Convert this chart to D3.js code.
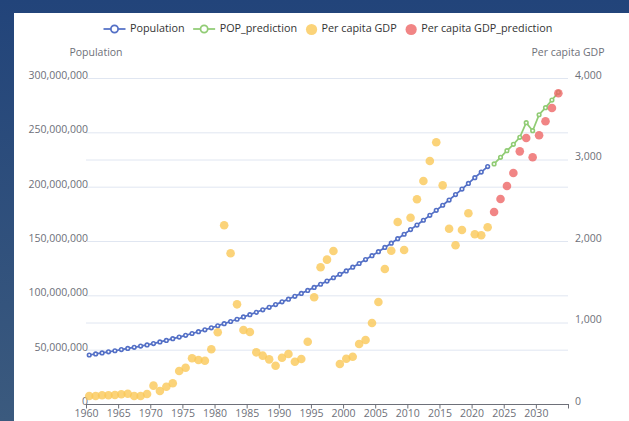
<!DOCTYPE html>
<html>
<head>
<meta charset="utf-8">
<script src="https://cdn.jsdelivr.net/npm/d3@7"></script>
<style>
body { margin: 0; background: #fff; overflow: hidden; }
text { font-family: "Open Sans", sans-serif; }
</style>
</head>
<body>
<div id="chart"></div>
<script>
// x categories
var years = [1960, 1961, 1962, 1963, 1964, 1965, 1966, 1967, 1968, 1969,
  1970, 1971, 1972, 1973, 1974, 1975, 1976, 1977, 1978, 1979,
  1980, 1981, 1982, 1983, 1984, 1985, 1986, 1987, 1988, 1989,
  1990, 1991, 1992, 1993, 1994, 1995, 1996, 1997, 1998, 1999,
  2000, 2001, 2002, 2003, 2004, 2005, 2006, 2007, 2008, 2009,
  2010, 2011, 2012, 2013, 2014, 2015, 2016, 2017, 2018, 2019,
  2020, 2021, 2022]
var predYears = [2023, 2024, 2025, 2026, 2027, 2028, 2029, 2030, 2031, 2032, 2033]

// population, millions
var population = [45.1, 46.1, 47.0, 48.0, 49.0, 50.1, 51.1, 52.2, 53.3, 54.4,
  55.6, 57.1, 58.5, 60.1, 61.6, 63.2, 64.9, 66.6, 68.3, 70.1,
  72.0, 73.9, 75.9, 78.0, 80.1, 82.2, 84.4, 86.7, 89.0, 91.5,
  94.0, 96.5, 99.1, 101.8, 104.5, 107.3, 110.2, 113.1, 116.2, 119.3,
  122.5, 125.9, 129.3, 132.9, 136.5, 140.2, 144.1, 148.0, 152.1, 156.2,
  160.5, 164.7, 169.1, 173.6, 178.2, 182.9, 187.7, 192.7, 197.8, 203.0,
  208.3, 213.4, 218.5]
var popPrediction = [220.9, 227.0, 233.1, 239.0, 245.4, 258.9, 251.5, 266.2, 272.7, 279.7, 286.8]

// per capita GDP
var gdp = [98, 98, 107, 107, 110, 119, 126, 98, 98, 123,
  225, 160, 212, 254, 405, 445, 561, 540, 531, 671,
  880, 2193, 1849, 1223, 908, 883, 634, 593, 548, 470,
  568, 613, 519, 552, 764, 1309, 1677, 1771, 1877, 491,
  556, 580, 736, 785, 994, 1252, 1656, 1881, 2233, 1890,
  2286, 2512, 2736, 2982, 3211, 2683, 2151, 1947, 2135, 2340,
  2082, 2070, 2168]
var gdpPrediction = [2356, 2515, 2675, 2834, 3100, 3264, 3027, 3297, 3469, 3632, 3812]

var popTicks = [0, 50, 100, 150, 200, 250, 300]
var gdpTicks = [0, 1000, 2000, 3000, 4000]
var yearTicks = [1960, 1965, 1970, 1975, 1980, 1985, 1990, 1995, 2000, 2005, 2010, 2015, 2020, 2025, 2030, 2035]

var legendNames = ['Population', 'POP_prediction', 'Per capita GDP', 'Per capita GDP_prediction']
var colors = ['#5470c6', '#91cc75', '#fac858', '#ee6666']

var width = 629, height = 421
var m = {left: 86, right: 568, top: 78, bottom: 404}

var svg = d3.select('#chart').append('svg')
  .attr('width', width).attr('height', height)

// page background behind the chart panel
var grad = svg.append('defs').append('linearGradient')
  .attr('id', 'bg').attr('x1', 0).attr('y1', 0).attr('x2', 0).attr('y2', 1)
grad.append('stop').attr('offset', '0%').attr('stop-color', '#22447a')
grad.append('stop').attr('offset', '100%').attr('stop-color', '#3b5a7e')
svg.append('rect').attr('width', width).attr('height', height).attr('fill', 'url(#bg)')
svg.append('rect').attr('x', 14).attr('y', 13)
  .attr('width', width - 14).attr('height', height - 13).attr('fill', '#fff')

var x = d3.scaleLinear().domain([1960, 2035]).range([m.left, m.right])
var yPop = d3.scaleLinear().domain([0, 300]).range([m.bottom, m.top])
var yGdp = d3.scaleLinear().domain([0, 4000]).range([m.bottom, m.top])

// left axis + its split lines
var gLeft = svg.append('g').attr('transform', 'translate(' + m.left + ',0)')
  .call(d3.axisLeft(yPop).tickValues(popTicks).tickSize(-(m.right - m.left)).tickPadding(-2)
    .tickFormat(function(d) { return d3.format(',')(d * 1e6) }))
gLeft.select('.domain').remove()
gLeft.selectAll('line').attr('stroke', '#e0e6f1')
gLeft.selectAll('text').attr('y', -3).attr('fill', '#6e7079').style('font-size', '10.5px')

// right axis + its split lines
var gRight = svg.append('g').attr('transform', 'translate(' + m.right + ',0)')
  .call(d3.axisRight(yGdp).tickValues(gdpTicks).tickSize(-(m.right - m.left)).tickPadding(7)
    .tickFormat(d3.format(',')))
gRight.select('.domain').remove()
gRight.selectAll('line').attr('stroke', '#e0e6f1')
gRight.selectAll('text').attr('y', -3).attr('fill', '#6e7079').style('font-size', '10.5px')

// bottom axis
var gBottom = svg.append('g').attr('transform', 'translate(0,' + m.bottom + ')')
  .call(d3.axisBottom(x).tickValues(yearTicks).tickSizeInner(4.5).tickSizeOuter(0).tickPadding(1)
    .tickFormat(function(d) { return d == 2035 ? '' : d }))
gBottom.selectAll('path, line').attr('stroke', '#6e7079')
gBottom.selectAll('text').attr('fill', '#6e7079').style('font-size', '10.5px')

// axis names
svg.append('text').attr('x', 96).attr('y', 53).attr('text-anchor', 'middle')
  .attr('dominant-baseline', 'middle').attr('fill', '#6e7079').style('font-size', '10.5px')
  .text('Population')
svg.append('text').attr('x', 568).attr('y', 53).attr('text-anchor', 'middle')
  .attr('dominant-baseline', 'middle').attr('fill', '#6e7079').style('font-size', '10.5px')
  .text('Per capita GDP')

// points sit in the middle of each year slot
function px(year) { return x(year + 0.5) }

var popData = years.map(function(d, i) { return {year: d, v: population[i]} })
var popPredData = predYears.map(function(d, i) { return {year: d, v: popPrediction[i]} })
var gdpData = years.map(function(d, i) { return {year: d, v: gdp[i]} })
var gdpPredData = predYears.map(function(d, i) { return {year: d, v: gdpPrediction[i]} })

var line = d3.line().x(function(d) { return px(d.year) }).y(function(d) { return yPop(d.v) })

function drawLine(data, color) {
  svg.append('path').attr('d', line(data))
    .attr('fill', 'none').attr('stroke', color).attr('stroke-width', 1.75)
  svg.append('g').selectAll('circle').data(data).join('circle')
    .attr('cx', function(d) { return px(d.year) })
    .attr('cy', function(d) { return yPop(d.v) })
    .attr('r', 1.8)
    .attr('fill', '#fff').attr('stroke', color).attr('stroke-width', 1.6)
}

function drawDots(data, color) {
  svg.append('g').selectAll('circle').data(data).join('circle')
    .attr('cx', function(d) { return px(d.year) })
    .attr('cy', function(d) { return yGdp(d.v) })
    .attr('r', 4.3)
    .attr('fill', color).attr('opacity', 0.8)
}

drawLine(popData, colors[0])
drawLine(popPredData, colors[1])
drawDots(gdpData, colors[2])
drawDots(gdpPredData, colors[3])

// legend
var lx = 103.5, ly = 29
legendNames.forEach(function(name, i) {
  var g = svg.append('g')
  if (i < 2) {
    g.append('line').attr('x1', lx).attr('x2', lx + 22).attr('y1', ly).attr('y2', ly)
      .attr('stroke', colors[i]).attr('stroke-width', 1.75)
    g.append('circle').attr('cx', lx + 11).attr('cy', ly).attr('r', 3.6)
      .attr('fill', '#fff').attr('stroke', colors[i]).attr('stroke-width', 1.75)
  } else {
    g.append('circle').attr('cx', lx + 6).attr('cy', ly + 0.5).attr('r', 5.6)
      .attr('fill', colors[i]).attr('opacity', 0.8)
  }
  var tx = i < 2 ? lx + 26.5 : lx + 16
  var t = g.append('text').attr('x', tx).attr('y', ly).attr('dominant-baseline', 'middle')
    .attr('fill', '#333').style('font-size', '10.8px').text(name)
  lx = tx + t.node().getComputedTextLength() + 8.5
})
</script>
</body>
</html>
